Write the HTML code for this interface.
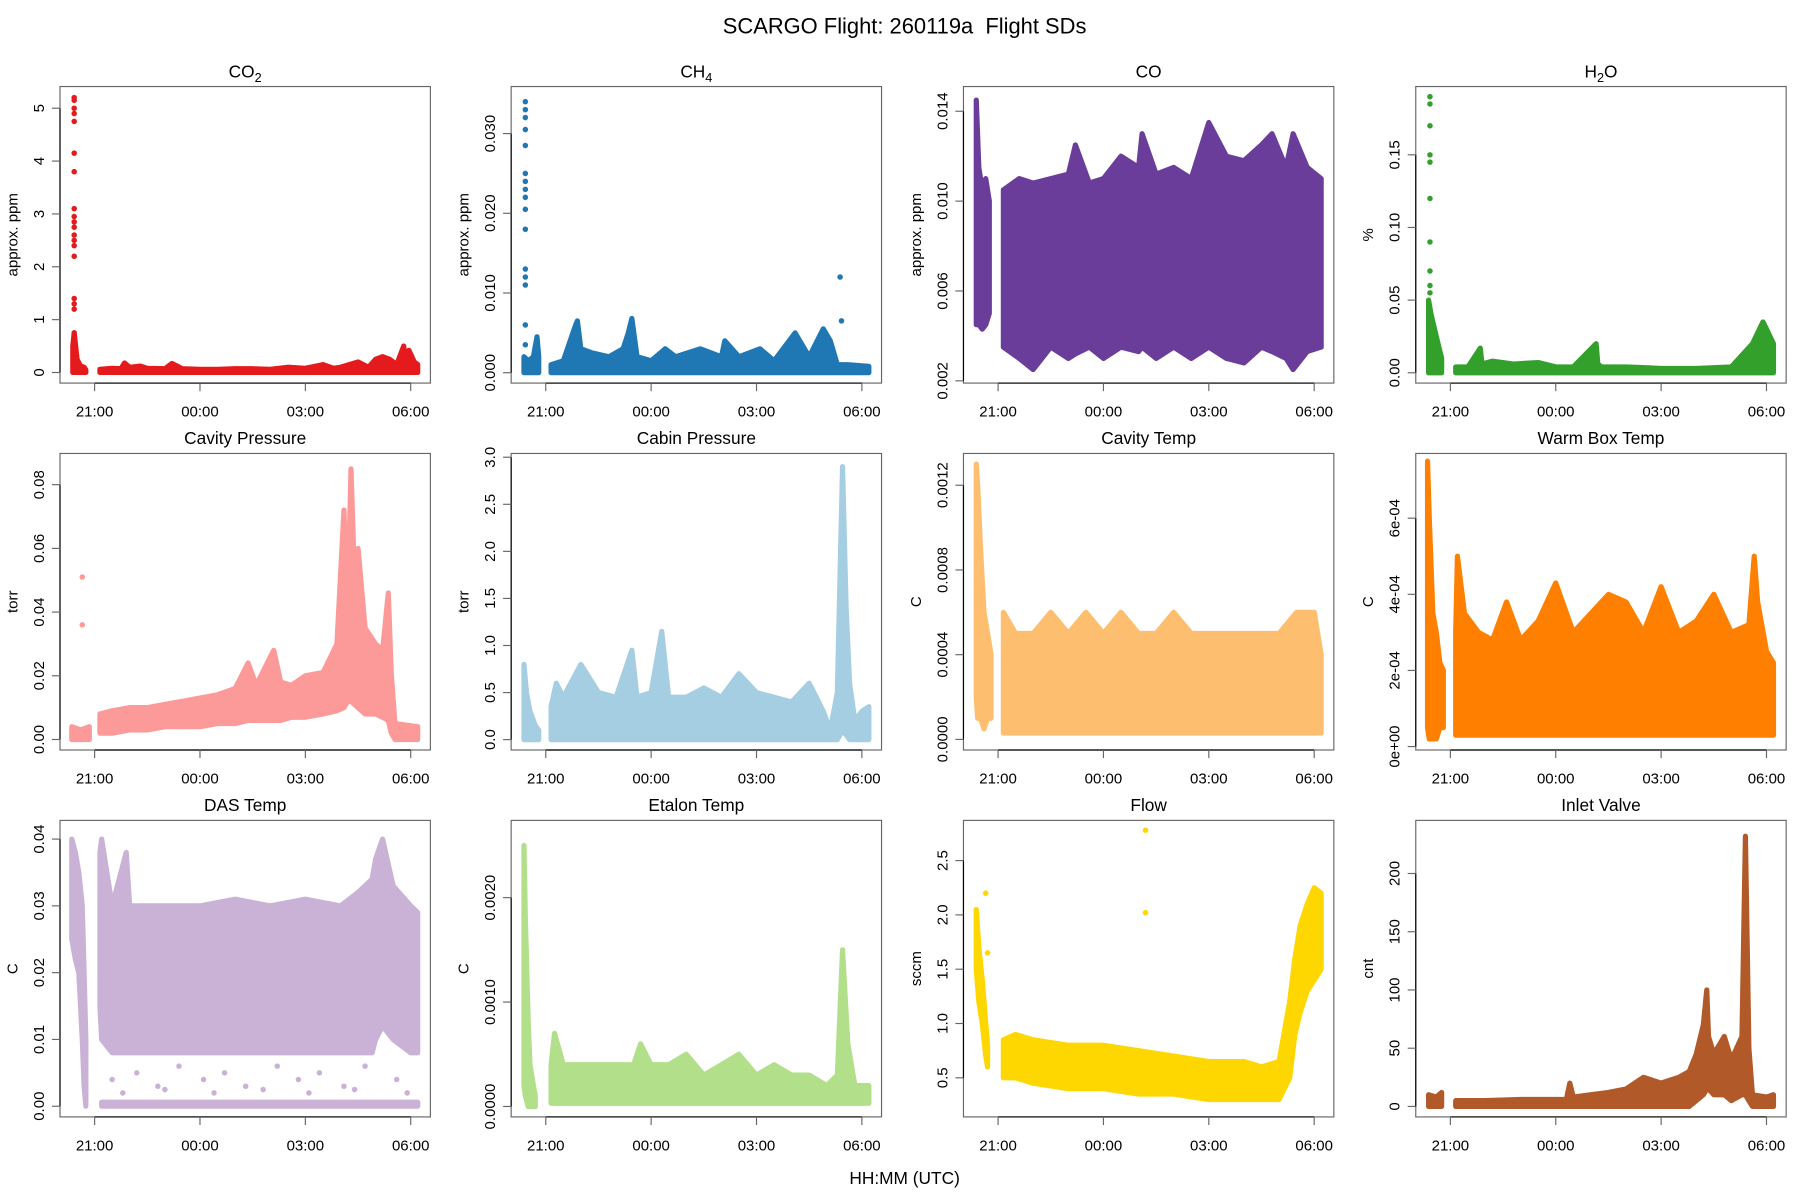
<!DOCTYPE html>
<html><head><meta charset="utf-8"><title>SCARGO Flight SDs</title>
<style>html,body{margin:0;padding:0;background:#fff}svg{display:block}text{font-family:"Liberation Sans",Arial,sans-serif;fill:#000}</style>
</head><body>
<svg id="chart" xmlns="http://www.w3.org/2000/svg" width="1800" height="1200" viewBox="0 0 1560 1040">
<rect x="0" y="0" width="1560" height="1040" fill="#fff"/>
<text x="784" y="29" font-size="19" text-anchor="middle" style="white-space:pre">SCARGO Flight: 260119a  Flight SDs</text>
<text x="784" y="1026" font-size="15" text-anchor="middle">HH:MM (UTC)</text>
</svg>
<script>
// x-axis ticks (hours after 21:00 UTC)
const xTickHours = [0, 3, 6, 9];
const xTickLabels = ["21:00", "00:00", "03:00", "06:00"];

// CO2
const co2T  = [-0.62,-0.58,-0.5,-0.4,-0.3,-0.25,null,0.15,0.5,0.75,0.85,1.0,1.3,1.5,2.0,2.2,2.5,3.0,3.5,4.0,4.5,5.0,5.5,6.0,6.5,6.8,7.0,7.5,7.8,8.0,8.2,8.4,8.6,8.8,8.85,8.95,9.1,9.2];
const co2Hi = [0.5,0.75,0.25,0.12,0.1,0.05,null,0.06,0.08,0.07,0.18,0.1,0.12,0.08,0.07,0.17,0.07,0.06,0.06,0.07,0.07,0.06,0.1,0.08,0.15,0.08,0.1,0.2,0.1,0.25,0.3,0.25,0.15,0.5,0.2,0.42,0.2,0.15];
const co2Lo = [0,0,0,0,0,0,null,0,0,0,0,0,0,0,0,0,0,0,0,0,0,0,0,0,0,0,0,0,0,0,0,0,0,0,0,0,0,0];
const co2PtT = [-0.58,-0.58,-0.58,-0.58,-0.58,-0.58,-0.58,-0.58,-0.58,-0.58,-0.58,-0.58,-0.58,-0.58,-0.58,-0.58,-0.58,-0.58,-0.58];
const co2PtV = [5.2,5.15,5.0,4.9,4.75,4.15,3.8,3.1,2.95,2.85,2.75,2.6,2.5,2.4,2.2,1.4,1.3,1.2,0.75];
const co2Ticks = [0,1,2,3,4,5];
const co2TickLabels = ["0","1","2","3","4","5"];

// CH4
const ch4T  = [-0.62,-0.5,-0.35,-0.25,-0.2,null,0.15,0.5,0.85,0.9,1.0,1.3,1.8,2.2,2.35,2.45,2.6,3.0,3.4,3.7,4.4,5.0,5.1,5.5,6.1,6.5,7.1,7.5,7.9,8.1,8.3,8.6,9.2];
const ch4Hi = [0.002,0.0015,0.002,0.0045,0.002,null,0.001,0.0015,0.006,0.0065,0.003,0.0025,0.002,0.003,0.005,0.0068,0.002,0.0015,0.003,0.002,0.003,0.002,0.004,0.002,0.003,0.0015,0.005,0.002,0.0055,0.004,0.001,0.001,0.0008];
const ch4Lo = [0,0,0,0,0,null,0,0,0,0,0,0,0,0,0,0,0,0,0,0,0,0,0,0,0,0,0,0,0,0,0,0,0];
const ch4PtT = [-0.58,-0.58,-0.58,-0.58,-0.58,-0.58,-0.58,-0.58,-0.58,-0.58,-0.58,-0.58,-0.58,-0.58,-0.58,-0.58,8.38,8.42];
const ch4PtV = [0.034,0.033,0.032,0.0305,0.0285,0.025,0.024,0.023,0.022,0.0205,0.018,0.013,0.012,0.011,0.006,0.0035,0.012,0.0065];
const ch4Ticks = [0,0.01,0.02,0.03];
const ch4TickLabels = ["0.000","0.010","0.020","0.030"];

// CO
const coT  = [-0.62,-0.55,-0.45,-0.35,-0.25,null,0.15,0.6,1.0,1.5,2.0,2.2,2.6,3.0,3.5,4.0,4.1,4.5,5.0,5.5,6.0,6.5,7.0,7.5,7.8,8.2,8.4,8.8,9.2];
const coHi = [0.0145,0.0115,0.0105,0.011,0.010,null,0.0105,0.011,0.0108,0.011,0.0112,0.0125,0.0108,0.011,0.012,0.0115,0.013,0.0112,0.0115,0.011,0.0135,0.012,0.0118,0.0125,0.013,0.0115,0.013,0.0115,0.011];
const coLo = [0.0045,0.0045,0.0043,0.0045,0.005,null,0.0035,0.003,0.0025,0.0035,0.003,0.0032,0.0035,0.003,0.0035,0.0033,0.0035,0.003,0.0035,0.003,0.0035,0.003,0.0028,0.0035,0.0033,0.003,0.0025,0.0033,0.0035];
const coPtT = [];
const coPtV = [];
const coTicks = [0.002,0.006,0.010,0.014];
const coTickLabels = ["0.002","0.006","0.010","0.014"];

// H2O
const h2oT  = [-0.62,-0.55,-0.45,-0.35,-0.25,null,0.15,0.5,0.85,0.9,1.2,1.8,2.5,3.0,3.5,4.15,4.2,4.3,5.0,6.0,7.0,8.0,8.3,8.6,8.9,9.0,9.2];
const h2oHi = [0.05,0.04,0.03,0.02,0.01,null,0.004,0.004,0.017,0.006,0.008,0.006,0.007,0.004,0.004,0.02,0.006,0.004,0.004,0.003,0.003,0.004,0.012,0.02,0.035,0.03,0.02];
const h2oLo = [0,0,0,0,0,null,0,0,0,0,0,0,0,0,0,0,0,0,0,0,0,0,0,0,0,0,0];
const h2oPtT = [-0.58,-0.58,-0.58,-0.58,-0.58,-0.58,-0.58,-0.58,-0.58,-0.58];
const h2oPtV = [0.19,0.185,0.17,0.15,0.145,0.12,0.09,0.07,0.06,0.055];
const h2oTicks = [0,0.05,0.1,0.15];
const h2oTickLabels = ["0.00","0.05","0.10","0.15"];

// Cavity Pressure
const cpT  = [-0.65,-0.4,-0.15,null,0.15,0.5,1.0,1.5,2.0,2.5,3.0,3.5,4.0,4.37,4.6,5.1,5.3,5.6,6.0,6.5,6.9,7.1,7.2,7.3,7.4,7.5,7.7,8.0,8.2,8.36,8.45,8.55,9.2];
const cpHi = [0.004,0.003,0.004,null,0.008,0.009,0.01,0.01,0.011,0.012,0.013,0.014,0.016,0.024,0.017,0.028,0.018,0.017,0.02,0.021,0.03,0.072,0.04,0.085,0.05,0.06,0.035,0.03,0.028,0.046,0.02,0.005,0.004];
const cpLo = [0,0,0,null,0.002,0.002,0.003,0.003,0.004,0.004,0.004,0.005,0.005,0.006,0.006,0.006,0.006,0.007,0.007,0.008,0.009,0.01,0.012,0.012,0.011,0.01,0.008,0.008,0.007,0.006,0.002,0,0];
const cpPtT = [-0.35,-0.35];
const cpPtV = [0.051,0.036];
const cpTicks = [0,0.02,0.04,0.06,0.08];
const cpTickLabels = ["0.00","0.02","0.04","0.06","0.08"];

// Cabin Pressure
const cbT  = [-0.62,-0.55,-0.45,-0.3,-0.2,null,0.15,0.3,0.5,1.0,1.5,2.0,2.45,2.6,3.0,3.3,3.5,4.0,4.5,5.0,5.5,6.0,6.5,7.0,7.5,7.9,8.1,8.3,8.45,8.55,8.65,8.8,9.0,9.2];
const cbHi = [0.8,0.5,0.3,0.15,0.1,null,0.35,0.6,0.45,0.8,0.5,0.45,0.95,0.45,0.5,1.15,0.45,0.45,0.55,0.45,0.7,0.5,0.45,0.4,0.6,0.3,0.1,0.5,2.9,1.4,0.6,0.2,0.3,0.35];
const cbLo = [0,0,0,0,0,null,0,0,0,0,0,0,0,0,0,0,0,0,0,0,0,0,0,0,0,0,0,0,0.1,0.05,0,0,0,0];
const cbPtT = [];
const cbPtV = [];
const cbTicks = [0,0.5,1,1.5,2,2.5,3];
const cbTickLabels = ["0.0","0.5","1.0","1.5","2.0","2.5","3.0"];

// Cavity Temp
const ctT  = [-0.62,-0.58,-0.5,-0.4,-0.3,-0.2,null,0.15,0.5,1.0,1.5,2.0,2.5,3.0,3.5,4.0,4.5,5.0,5.5,6.0,6.5,7.0,7.5,8.0,8.5,9.0,9.2];
const ctHi = [0.0013,0.0012,0.0009,0.0006,0.0005,0.0004,null,0.0006,0.0005,0.0005,0.0006,0.0005,0.0006,0.0005,0.0006,0.0005,0.0005,0.0006,0.0005,0.0005,0.0005,0.0005,0.0005,0.0005,0.0006,0.0006,0.0004];
const ctLo = [0.0002,0.0001,0.0001,0.00005,0.0001,0.0001,null,0.00003,0.00003,0.00003,0.00003,0.00003,0.00003,0.00003,0.00003,0.00003,0.00003,0.00003,0.00003,0.00003,0.00003,0.00003,0.00003,0.00003,0.00003,0.00003,0.00003];
const ctPtT = [];
const ctPtV = [];
const ctTicks = [0,0.0004,0.0008,0.0012];
const ctTickLabels = ["0.0000","0.0004","0.0008","0.0012"];

// Warm Box Temp
const wbT  = [-0.65,-0.6,-0.5,-0.4,-0.3,-0.2,null,0.15,0.2,0.4,0.8,1.2,1.6,2.0,2.5,3.0,3.5,4.0,4.5,5.0,5.5,6.0,6.5,7.0,7.5,8.0,8.5,8.65,8.75,9.0,9.2];
const wbHi = [7.5e-4,6e-4,3.5e-4,3e-4,2.2e-4,2e-4,null,3e-4,5e-4,3.5e-4,3e-4,2.8e-4,3.8e-4,2.8e-4,3.3e-4,4.3e-4,3e-4,3.5e-4,4e-4,3.8e-4,3e-4,4.2e-4,3e-4,3.3e-4,4e-4,3e-4,3.2e-4,5e-4,3.8e-4,2.5e-4,2.2e-4];
const wbLo = [0.5e-4,0.2e-4,0.2e-4,0.2e-4,0.5e-4,0.5e-4,null,0.3e-4,0.3e-4,0.3e-4,0.3e-4,0.3e-4,0.3e-4,0.3e-4,0.3e-4,0.3e-4,0.3e-4,0.3e-4,0.3e-4,0.3e-4,0.3e-4,0.3e-4,0.3e-4,0.3e-4,0.3e-4,0.3e-4,0.3e-4,0.3e-4,0.3e-4,0.3e-4,0.3e-4];
const wbPtT = [];
const wbPtV = [];
const wbTicks = [0,2e-4,4e-4,6e-4];
const wbTickLabels = ["0e+00","2e-04","4e-04","6e-04"];

// DAS Temp
const dsT  = [-0.65,-0.55,-0.45,-0.35,-0.3,-0.25,null,0.15,0.2,0.5,0.9,1.0,1.5,2.0,3.0,4.0,5.0,6.0,7.0,7.5,7.9,8.0,8.2,8.5,9.0,9.2];
const dsHi = [0.04,0.038,0.035,0.03,0.02,0.01,null,0.038,0.04,0.03,0.038,0.03,0.03,0.03,0.03,0.031,0.03,0.031,0.03,0.032,0.034,0.037,0.04,0.033,0.03,0.029];
const dsLo = [0.025,0.022,0.02,0.01,0.003,0,null,0.015,0.01,0.008,0.008,0.008,0.008,0.008,0.008,0.008,0.008,0.008,0.008,0.008,0.008,0.01,0.012,0.01,0.008,0.008];
const dsBaseT = [0.2,9.2];
const dsBaseHi = [0.0006,0.0006];
const dsBaseLo = [0,0];
const dsPtT = [0.5,1.2,1.8,2.4,3.1,3.7,4.3,5.2,5.8,6.4,7.1,7.7,8.6,0.8,2.0,3.4,4.8,6.1,7.4,8.9];
const dsPtV = [0.004,0.005,0.003,0.006,0.004,0.005,0.003,0.006,0.004,0.005,0.003,0.006,0.004,0.002,0.0025,0.002,0.0025,0.002,0.0025,0.002];
const dsTicks = [0,0.01,0.02,0.03,0.04];
const dsTickLabels = ["0.00","0.01","0.02","0.03","0.04"];

// Etalon Temp
const etT  = [-0.62,-0.58,-0.5,-0.45,-0.4,-0.35,-0.3,null,0.15,0.25,0.5,1.0,1.5,2.0,2.5,2.7,3.0,3.5,4.0,4.5,5.0,5.5,6.0,6.5,7.0,7.5,8.0,8.3,8.45,8.6,8.8,9.2];
const etHi = [0.0025,0.0018,0.0008,0.0004,0.0003,0.0002,0.0001,null,0.0004,0.0007,0.0004,0.0004,0.0004,0.0004,0.0004,0.0006,0.0004,0.0004,0.0005,0.0003,0.0004,0.0005,0.0003,0.0004,0.0003,0.0003,0.0002,0.0003,0.0015,0.0006,0.0002,0.0002];
const etLo = [0.0002,0.0001,0,0,0,0,0,null,0.00003,0.00003,0.00003,0.00003,0.00003,0.00003,0.00003,0.00003,0.00003,0.00003,0.00003,0.00003,0.00003,0.00003,0.00003,0.00003,0.00003,0.00003,0.00003,0.00003,0.00003,0.00003,0.00003,0.00003];
const etPtT = [];
const etPtV = [];
const etTicks = [0,0.001,0.002];
const etTickLabels = ["0.0000","0.0010","0.0020"];

// Flow
const flT  = [-0.62,-0.55,-0.45,-0.35,-0.3,null,0.15,0.5,1.0,2.0,3.0,4.0,5.0,6.0,7.0,7.5,8.0,8.3,8.45,8.6,8.8,9.0,9.2];
const flHi = [2.05,1.7,1.4,1.0,0.8,null,0.85,0.9,0.85,0.8,0.8,0.75,0.7,0.65,0.65,0.6,0.65,1.2,1.6,1.9,2.1,2.25,2.2];
const flLo = [1.5,1.2,1.0,0.7,0.6,null,0.5,0.5,0.45,0.4,0.4,0.35,0.35,0.3,0.3,0.3,0.3,0.5,0.9,1.1,1.3,1.4,1.5];
const flPtT = [-0.35,-0.3,4.2,4.2];
const flPtV = [2.2,1.65,2.78,2.02];
const flTicks = [0.5,1,1.5,2,2.5];
const flTickLabels = ["0.5","1.0","1.5","2.0","2.5"];

// Inlet Valve
const inT  = [-0.62,-0.4,-0.25,null,0.15,1.0,2.0,3.3,3.4,3.5,4.5,5.0,5.5,6.0,6.5,6.8,7.0,7.2,7.3,7.35,7.5,7.8,8.0,8.3,8.4,8.5,8.6,9.0,9.2];
const inHi = [10,8,12,null,5,5,6,6,20,8,12,15,25,20,25,30,45,70,100,60,45,60,40,60,232,50,10,8,10];
const inLo = [0,0,0,null,0,0,0,0,0,0,0,0,0,0,0,0,5,10,15,15,10,10,5,10,10,5,0,0,0];
const inPtT = [];
const inPtV = [];
const inTicks = [0,50,100,150,200];
const inTickLabels = ["0","50","100","150","200"];

const NS = "http://www.w3.org/2000/svg";
const svg = document.getElementById("chart");
const colLeft = [52, 443, 835, 1227];
const rowTop = [75, 393, 711];
const boxW = 321, boxH = 257;

const panels = [
 {key:"co2", title:["CO","2"], ylab:"approx. ppm", color:"#E41A1C", dom:[-0.2,5.41], T:co2T, hi:co2Hi, lo:co2Lo, pT:co2PtT, pV:co2PtV, ticks:co2Ticks, tl:co2TickLabels},
 {key:"ch4", title:["CH","4"], ylab:"approx. ppm", color:"#1F78B4", dom:[-0.0013,0.0359], T:ch4T, hi:ch4Hi, lo:ch4Lo, pT:ch4PtT, pV:ch4PtV, ticks:ch4Ticks, tl:ch4TickLabels},
 {key:"co", title:["CO",""], ylab:"approx. ppm", color:"#6A3D9A", dom:[0.0019,0.0151], T:coT, hi:coHi, lo:coLo, pT:coPtT, pV:coPtV, ticks:coTicks, tl:coTickLabels},
 {key:"h2o", title:["H","2","O"], ylab:"%", color:"#33A02C", dom:[-0.0071,0.197], T:h2oT, hi:h2oHi, lo:h2oLo, pT:h2oPtT, pV:h2oPtV, ticks:h2oTicks, tl:h2oTickLabels},
 {key:"cavity-pressure", title:["Cavity Pressure"], ylab:"torr", color:"#FB9A99", dom:[-0.0033,0.0898], T:cpT, hi:cpHi, lo:cpLo, pT:cpPtT, pV:cpPtV, ticks:cpTicks, tl:cpTickLabels},
 {key:"cabin-pressure", title:["Cabin Pressure"], ylab:"torr", color:"#A6CEE3", dom:[-0.11,3.04], T:cbT, hi:cbHi, lo:cbLo, pT:cbPtT, pV:cbPtV, ticks:cbTicks, tl:cbTickLabels},
 {key:"cavity-temp", title:["Cavity Temp"], ylab:"C", color:"#FDBF6F", dom:[-0.00005,0.00135], T:ctT, hi:ctHi, lo:ctLo, pT:ctPtT, pV:ctPtV, ticks:ctTicks, tl:ctTickLabels},
 {key:"warm-box-temp", title:["Warm Box Temp"], ylab:"C", color:"#FF7F00", dom:[-0.09e-4,7.7e-4], T:wbT, hi:wbHi, lo:wbLo, pT:wbPtT, pV:wbPtV, ticks:wbTicks, tl:wbTickLabels},
 {key:"das-temp", title:["DAS Temp"], ylab:"C", color:"#CAB2D6", dom:[-0.0016,0.0428], T:dsT, hi:dsHi, lo:dsLo, pT:dsPtT, pV:dsPtV, ticks:dsTicks, tl:dsTickLabels, extra:{T:dsBaseT, hi:dsBaseHi, lo:dsBaseLo}},
 {key:"etalon-temp", title:["Etalon Temp"], ylab:"C", color:"#B2DF8A", dom:[-0.0001,0.00274], T:etT, hi:etHi, lo:etLo, pT:etPtT, pV:etPtV, ticks:etTicks, tl:etTickLabels},
 {key:"flow", title:["Flow"], ylab:"sccm", color:"#FFD700", dom:[0.14,2.87], T:flT, hi:flHi, lo:flLo, pT:flPtT, pV:flPtV, ticks:flTicks, tl:flTickLabels},
 {key:"inlet-valve", title:["Inlet Valve"], ylab:"cnt", color:"#B15928", dom:[-9,245.6], T:inT, hi:inHi, lo:inLo, pT:inPtT, pV:inPtV, ticks:inTicks, tl:inTickLabels}
];

function mk(tag, attrs, parent) {
  const e = document.createElementNS(NS, tag);
  for (const k in attrs) e.setAttribute(k, attrs[k]);
  parent.appendChild(e);
  return e;
}

function drawBand(g, T, hi, lo, xs, ys, color, name) {
  let run = [];
  const runs = [];
  for (let i = 0; i < T.length; i++) {
    if (T[i] === null) { if (run.length) runs.push(run); run = []; }
    else run.push(i);
  }
  if (run.length) runs.push(run);
  runs.forEach(function (r, k) {
    const top = r.map(i => xs(T[i]).toFixed(1) + "," + ys(hi[i]).toFixed(1));
    const bot = r.slice().reverse().map(i => xs(T[i]).toFixed(1) + "," + ys(lo[i]).toFixed(1));
    const p = mk("polygon", {points: top.concat(bot).join(" "), fill: color, stroke: color, "stroke-width": 4.5, "stroke-linejoin": "round"}, g);
    
    
  });
}

panels.forEach(function (P, idx) {
  const L = colLeft[idx % 4], Tp = rowTop[Math.floor(idx / 4)];
  const xs = h => L + 30 + h * 30.44;
  const ys = v => Tp + boxH - (v - P.dom[0]) / (P.dom[1] - P.dom[0]) * boxH;
  const g = mk("g", {}, svg);
  
  

  const clip = mk("clipPath", {id: "clip" + idx}, g);
  mk("rect", {x: L, y: Tp, width: boxW, height: boxH}, clip);
  const dg = mk("g", {"clip-path": "url(#clip" + idx + ")"}, g);
  
  

  if (P.extra) drawBand(dg, P.extra.T, P.extra.hi, P.extra.lo, xs, ys, P.color, P.key + '-baseline');
  drawBand(dg, P.T, P.hi, P.lo, xs, ys, P.color, P.key);
  for (let i = 0; i < P.pT.length; i++) {
    const c = mk("circle", {cx: xs(P.pT[i]).toFixed(1), cy: ys(P.pV[i]).toFixed(1), r: 2.4, fill: P.color}, dg);
    
    
  }

  const box = mk("rect", {x: L, y: Tp, width: boxW, height: boxH, fill: "none", stroke: "#666", "stroke-width": 1}, g);
  
  

  const tt = mk("text", {x: L + boxW / 2, y: Tp - 8, "font-size": 15, "text-anchor": "middle"}, g);
  
  
  tt.textContent = P.title[0];
  if (P.title.length > 1 && P.title[1]) {
    const s = mk("tspan", {"font-size": 11, dy: 4}, tt);
    s.textContent = P.title[1];
    if (P.title[2]) { const s2 = mk("tspan", {dy: -4}, tt); s2.textContent = P.title[2]; }
  }

  const xa = mk("g", {}, g);
  
  
  mk("line", {x1: xs(xTickHours[0]), x2: xs(xTickHours[xTickHours.length - 1]), y1: Tp + boxH, y2: Tp + boxH, stroke: "#000", "stroke-width": 1}, xa);
  xTickHours.forEach(function (h, i) {
    mk("line", {x1: xs(h), x2: xs(h), y1: Tp + boxH, y2: Tp + boxH + 7, stroke: "#666", "stroke-width": 1}, xa);
    const t = mk("text", {x: xs(h), y: Tp + boxH + 29, "font-size": 13, "text-anchor": "middle"}, xa);
    
    
    t.textContent = xTickLabels[i];
  });

  const ya = mk("g", {}, g);
  
  
  mk("line", {x1: L, x2: L, y1: ys(P.ticks[0]), y2: ys(P.ticks[P.ticks.length - 1]), stroke: "#000", "stroke-width": 1}, ya);
  P.ticks.forEach(function (v, i) {
    const y = ys(v);
    mk("line", {x1: L - 7, x2: L, y1: y, y2: y, stroke: "#666", "stroke-width": 1}, ya);
    const t = mk("text", {x: 0, y: 0, "font-size": 13, "text-anchor": "middle", transform: "translate(" + (L - 14) + "," + y.toFixed(1) + ") rotate(-90)"}, ya);
    
    
    t.textContent = P.tl[i];
  });
  const yl = mk("text", {x: 0, y: 0, "font-size": 13, "text-anchor": "middle", transform: "translate(" + (L - 37) + "," + (Tp + boxH / 2) + ") rotate(-90)"}, ya);
  
  
  yl.textContent = P.ylab;
});
</script>
</body></html>
